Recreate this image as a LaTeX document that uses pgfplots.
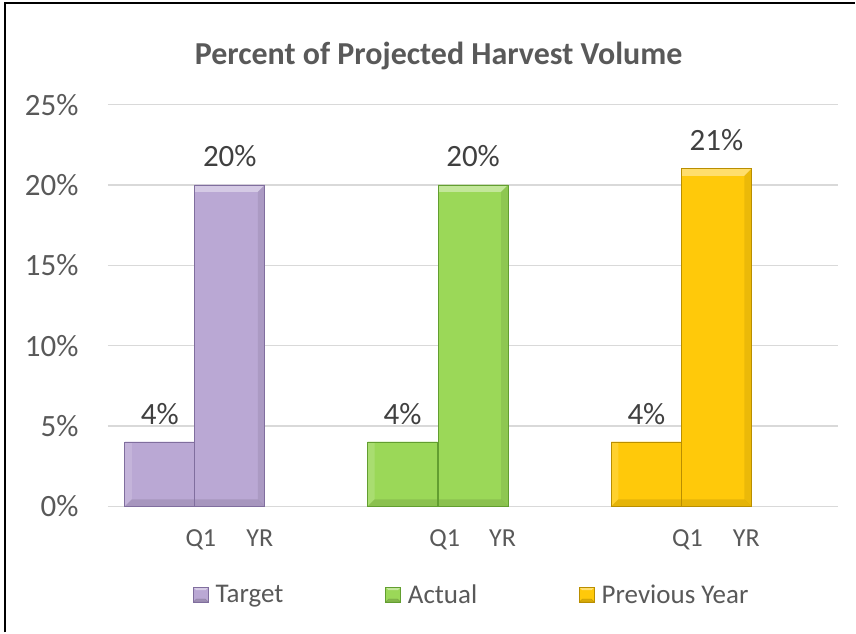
\documentclass[border=0pt]{standalone}
\usepackage{fontspec}
\setmainfont{Carlito}
\usepackage{pgfplots}
\pgfplotsset{compat=1.18}
\definecolor{tgt}{RGB}{186,168,212}
\definecolor{tgtE}{RGB}{128,110,158}
\definecolor{act}{RGB}{155,216,88}
\definecolor{actE}{RGB}{98,158,48}
\definecolor{prv}{RGB}{255,201,10}
\definecolor{prvE}{RGB}{185,142,0}
\definecolor{txt}{RGB}{89,89,89}
\definecolor{lbl}{RGB}{64,64,64}
\definecolor{gridc}{RGB}{217,217,217}
\newif\ifinbevel
\tikzset{
  bevel/.style={path picture={\ifinbevel\else\global\inbeveltrue
    \fill[white,opacity=0.40,draw=none] (path picture bounding box.north west) -- (path picture bounding box.north east)
       -- ([xshift=-7pt,yshift=-7pt]path picture bounding box.north east) -- ([xshift=7pt,yshift=-7pt]path picture bounding box.north west) -- cycle;
    \fill[white,opacity=0.15,draw=none] (path picture bounding box.north west) -- ([xshift=7pt,yshift=-7pt]path picture bounding box.north west)
       -- ([xshift=7pt,yshift=7pt]path picture bounding box.south west) -- (path picture bounding box.south west) -- cycle;
    \fill[black,opacity=0.10,draw=none] (path picture bounding box.south west) -- (path picture bounding box.south east)
       -- ([xshift=-7pt,yshift=7pt]path picture bounding box.south east) -- ([xshift=7pt,yshift=7pt]path picture bounding box.south west) -- cycle;
    \fill[black,opacity=0.08,draw=none] (path picture bounding box.north east) -- ([xshift=-7pt,yshift=-7pt]path picture bounding box.north east)
       -- ([xshift=-7pt,yshift=7pt]path picture bounding box.south east) -- (path picture bounding box.south east) -- cycle;
    \global\inbevelfalse\fi
  }},
}
\pgfplotsset{
  lgT/.style={legend image code/.code={
    \fill[tgt] (0pt,-7.5pt) rectangle (15pt,7.5pt);
    \fill[white,opacity=0.4] (0pt,7.5pt) -- (15pt,7.5pt) -- (12pt,4.5pt) -- (3pt,4.5pt) -- cycle;
    \fill[black,opacity=0.15] (0pt,-7.5pt) -- (15pt,-7.5pt) -- (12pt,-4.5pt) -- (3pt,-4.5pt) -- cycle;
    \draw[tgtE,line width=0.6pt] (0pt,-7.5pt) rectangle (15pt,7.5pt);}},
  lgA/.style={legend image code/.code={
    \fill[act] (0pt,-7.5pt) rectangle (15pt,7.5pt);
    \fill[white,opacity=0.4] (0pt,7.5pt) -- (15pt,7.5pt) -- (12pt,4.5pt) -- (3pt,4.5pt) -- cycle;
    \fill[black,opacity=0.15] (0pt,-7.5pt) -- (15pt,-7.5pt) -- (12pt,-4.5pt) -- (3pt,-4.5pt) -- cycle;
    \draw[actE,line width=0.6pt] (0pt,-7.5pt) rectangle (15pt,7.5pt);}},
  lgP/.style={legend image code/.code={
    \fill[prv] (0pt,-7.5pt) rectangle (15pt,7.5pt);
    \fill[white,opacity=0.4] (0pt,7.5pt) -- (15pt,7.5pt) -- (12pt,4.5pt) -- (3pt,4.5pt) -- cycle;
    \fill[black,opacity=0.15] (0pt,-7.5pt) -- (15pt,-7.5pt) -- (12pt,-4.5pt) -- (3pt,-4.5pt) -- cycle;
    \draw[prvE,line width=0.6pt] (0pt,-7.5pt) rectangle (15pt,7.5pt);}},
}
\begin{document}
\begin{tikzpicture}[x=1pt,y=1pt]
\path (0,0) rectangle (856,633);
\draw[black,line width=1.5pt] (5,0) -- (5,630) -- (856,630);
\node[font=\bfseries\fontsize{32}{38}\selectfont, text=txt, anchor=base] at (439,568.5) {Percent of Projected Harvest Volume};
\begin{axis}[
  at={(108pt,126.3pt)}, anchor=south west,
  width=731pt, height=402pt, scale only axis,
  xmin=108, xmax=839, ymin=0, ymax=25,
  /pgf/number format/assume math mode=true,
  axis line style={draw=none},
  tick style={draw=none},
  ymajorgrids, major grid style={color=gridc, line width=1.5pt},
  ytick={0,5,10,15,20,25},
  yticklabel={\pgfmathprintnumber{\tick}\%},
  yticklabel style={font=\fontsize{31}{37}\selectfont, text=txt, xshift=-26pt},
  xtick={201,260,445,503,688,747},
  xticklabels={Q1,YR,Q1,YR,Q1,YR},
  xticklabel style={font=\fontsize{26}{31}\selectfont, text=txt, yshift=-20pt},
  clip=false,
  bar width=70,
  every node near coord/.append style={font=\fontsize{31}{37}\selectfont, text=lbl, yshift=14pt},
  legend style={at={(axis description cs:0.1163,-0.2197)}, anchor=west, draw=none, fill=none,
    font=\fontsize{27}{32}\selectfont, text=txt, inner sep=0pt,
    /tikz/every odd column/.append style={column sep=5pt},
    /tikz/every even column/.append style={column sep=100pt}},
  legend columns=3,
]
\addplot[ybar, bar shift=0pt, fill=tgt, draw=tgtE, line width=0.8pt, forget plot,
  nodes near coords={\pgfmathprintnumber{\pgfplotspointmeta}\%}] coordinates {(160,4) (230,20)};
\addplot[ybar, bar shift=0pt, fill=act, draw=actE, line width=0.8pt, forget plot,
  nodes near coords={\pgfmathprintnumber{\pgfplotspointmeta}\%}] coordinates {(403,4) (473.5,20)};
\addplot[ybar, bar shift=0pt, fill=prv, draw=prvE, line width=0.8pt, forget plot,
  nodes near coords={\pgfmathprintnumber{\pgfplotspointmeta}\%}] coordinates {(647,4) (717,21)};
\addplot[ybar, bar shift=0pt, fill=tgt, draw=tgtE, line width=0.8pt, bevel, forget plot] coordinates {(160,4) (230,20)};
\addplot[ybar, bar shift=0pt, fill=act, draw=actE, line width=0.8pt, bevel, forget plot] coordinates {(403,4) (473.5,20)};
\addplot[ybar, bar shift=0pt, fill=prv, draw=prvE, line width=0.8pt, bevel, forget plot] coordinates {(647,4) (717,21)};
\addlegendimage{lgT}
\addlegendentry{Target}
\addlegendimage{lgA}
\addlegendentry{Actual}
\addlegendimage{lgP}
\addlegendentry{Previous Year}
\end{axis}
\end{tikzpicture}
\end{document}
